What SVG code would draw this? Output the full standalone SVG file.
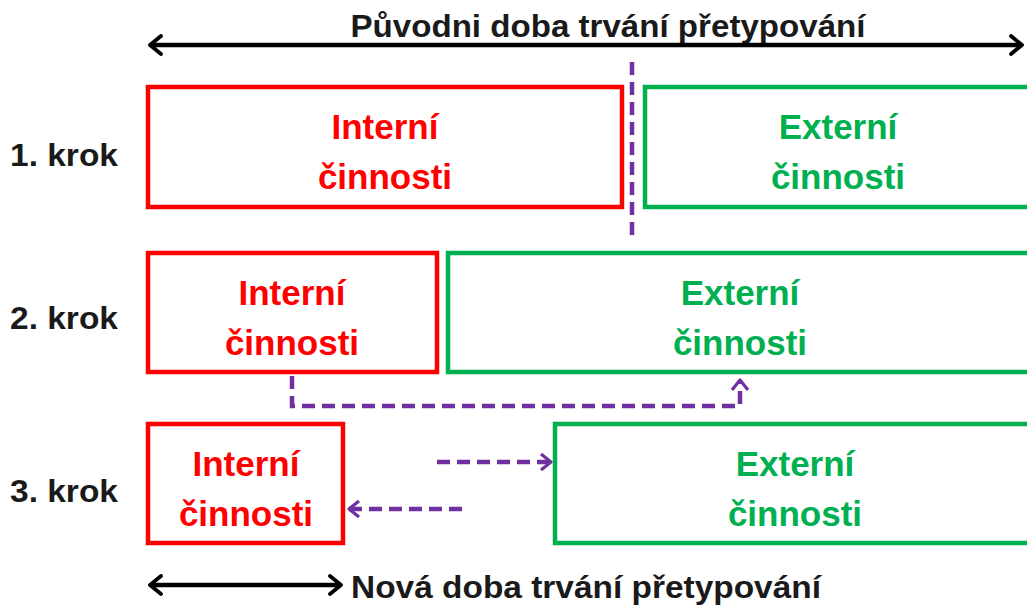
<svg xmlns="http://www.w3.org/2000/svg" width="1027" height="607" viewBox="0 0 1027 607">
<defs>
<style>
text{font-family:"Liberation Sans",Arial,sans-serif;font-weight:bold}
.lbl{font-size:31px;fill:#1a1a1a}
.ttl{font-size:32px;fill:#1a1a1a}
.red{fill:none;stroke:#ff0000;stroke-width:4.5}
.grn{fill:none;stroke:#00b050;stroke-width:4.5}
.rt{font-size:35px;fill:#ff0000;text-anchor:middle}
.gt{font-size:35px;fill:#00b050;text-anchor:middle}
.dash{fill:none;stroke:#7030a0;stroke-width:4.5;stroke-dasharray:13,7}
.blk{fill:none;stroke:#000;stroke-width:4.5}
</style>
<marker id="pa" viewBox="0 0 16 20" refX="13" refY="10" markerWidth="16" markerHeight="20" markerUnits="userSpaceOnUse" orient="auto">
<path d="M3,2 L13,10 L3,18" fill="none" stroke="#7030a0" stroke-width="3.2" stroke-linejoin="round"/>
</marker>
<marker id="ba" viewBox="0 0 16 22" refX="14" refY="11" markerWidth="16" markerHeight="22" markerUnits="userSpaceOnUse" orient="auto-start-reverse">
<path d="M3,2 L14,11 L3,20" fill="none" stroke="#000" stroke-width="3.8" stroke-linecap="round" stroke-linejoin="round"/>
</marker>
</defs>
<rect width="1027" height="607" fill="#fff"/>
<g id="labels">
<text class="ttl" x="608" y="37" text-anchor="middle" textLength="515" lengthAdjust="spacingAndGlyphs">Původni doba trvání přetypování</text>
<text class="lbl" x="10" y="166" textLength="108" lengthAdjust="spacingAndGlyphs">1. krok</text>
<text class="lbl" x="10" y="329" textLength="108" lengthAdjust="spacingAndGlyphs">2. krok</text>
<text class="lbl" x="10" y="502" textLength="108" lengthAdjust="spacingAndGlyphs">3. krok</text>
<text class="ttl" x="351" y="598" font-size="33" textLength="470" lengthAdjust="spacingAndGlyphs">Nová doba trvání přetypování</text>
</g>
<g id="r1-int"><rect class="red" x="148" y="87" width="474" height="120"/><text class="rt" x="385" y="139">Interní</text><text class="rt" x="385" y="189">činnosti</text></g>
<g id="r1-ext"><rect class="grn" x="645" y="87" width="390" height="120"/><text class="gt" x="838" y="139">Externí</text><text class="gt" x="838" y="189">činnosti</text></g>
<g id="r2-int"><rect class="red" x="148" y="253" width="289" height="119"/><text class="rt" x="292" y="305">Interní</text><text class="rt" x="292" y="355">činnosti</text></g>
<g id="r2-ext"><rect class="grn" x="448" y="253" width="590" height="119"/><text class="gt" x="740" y="305">Externí</text><text class="gt" x="740" y="355">činnosti</text></g>
<g id="r3-int"><rect class="red" x="148" y="424" width="195" height="119"/><text class="rt" x="246" y="476">Interní</text><text class="rt" x="246" y="526">činnosti</text></g>
<g id="r3-ext"><rect class="grn" x="555" y="424" width="483" height="119"/><text class="gt" x="795" y="476">Externí</text><text class="gt" x="795" y="526">činnosti</text></g>
<g id="connectors">
<line class="blk" x1="150" y1="45" x2="1022" y2="45" marker-start="url(#ba)" marker-end="url(#ba)"/>
<line class="blk" x1="150" y1="585" x2="341" y2="585" marker-start="url(#ba)" marker-end="url(#ba)"/>
<line class="dash" x1="632" y1="62" x2="632" y2="240" stroke-dasharray="12,6"/>
<path class="dash" d="M292,376 V406 H740 V380" marker-end="url(#pa)"/>
<line class="dash" x1="437" y1="462" x2="551" y2="462" marker-end="url(#pa)"/>
<line class="dash" x1="462" y1="509" x2="349" y2="509" marker-end="url(#pa)"/>
</g>
</svg>
